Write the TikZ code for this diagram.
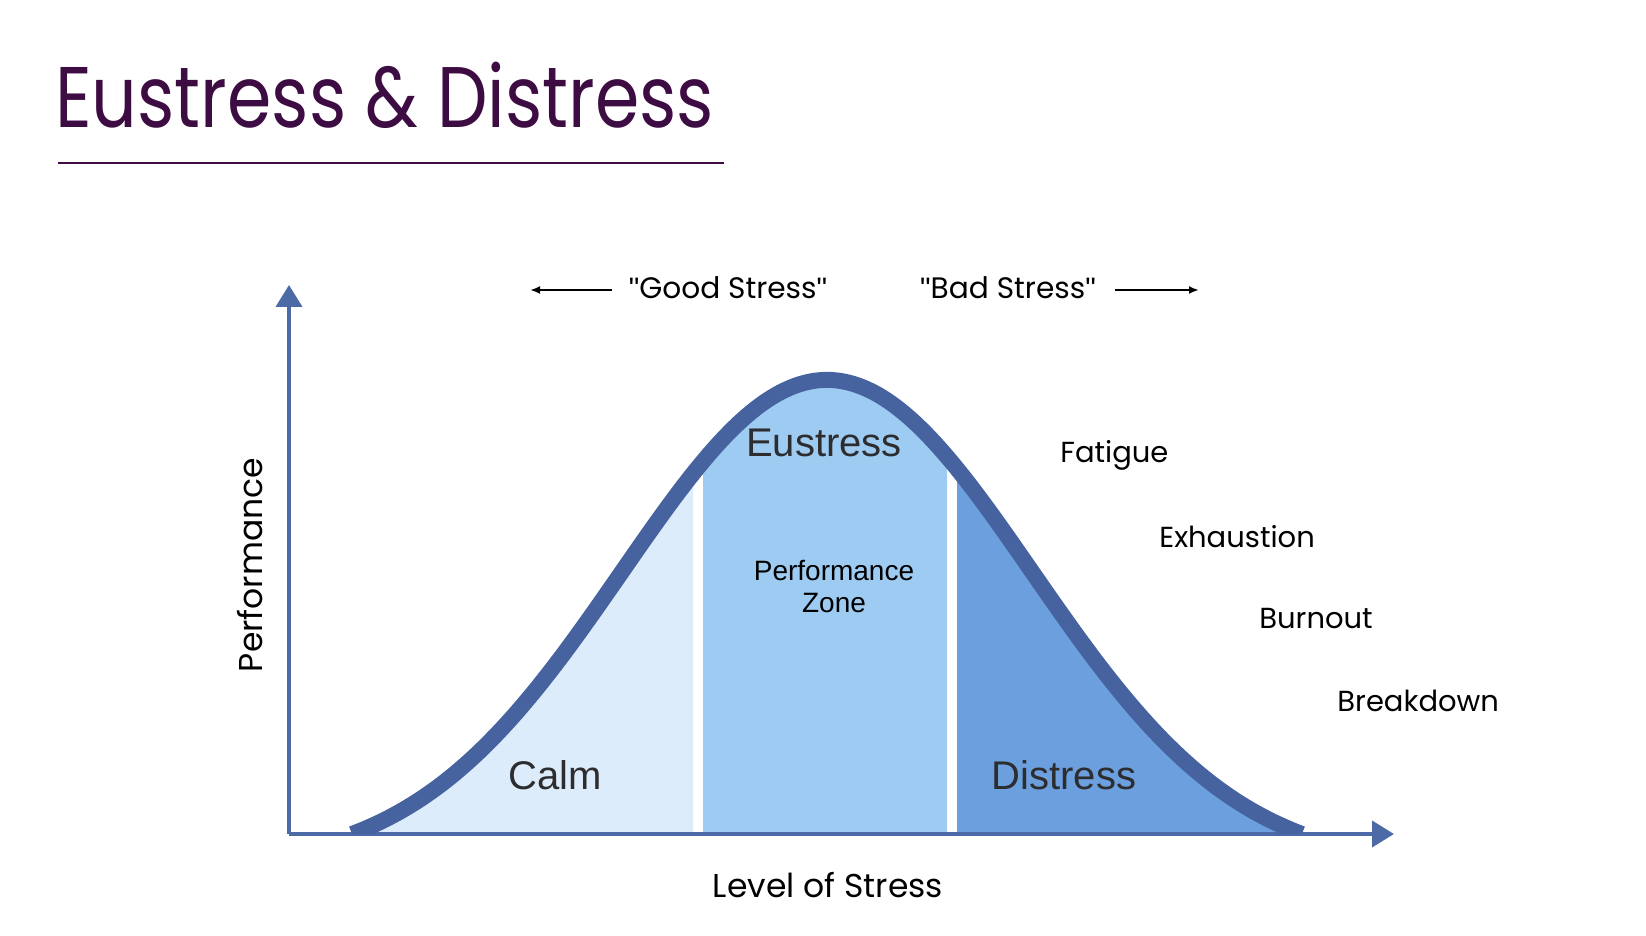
\documentclass[tikz,border=0pt]{standalone}
\usepackage{fontspec}
\setmainfont{Poppins}
\setsansfont{Liberation Sans}
\newfontfamily\quotefont{Liberation Sans}[Ligatures=TeXOff]
\usetikzlibrary{arrows.meta}
\definecolor{figTitle}{RGB}{61,12,66}
\definecolor{figAxis}{RGB}{76,106,166}
\definecolor{figCurve}{RGB}{70,99,159}
\definecolor{figCalm}{RGB}{221,236,250}
\definecolor{figEu}{RGB}{158,203,241}
\definecolor{figDis}{RGB}{107,159,221}
\definecolor{figInk}{RGB}{45,45,48}
\newcommand{\qq}{{\quotefont\symbol{34}}}

\begin{document}
\begin{tikzpicture}[
  x=0.5pt,y=-0.5pt,
  title/.style={font=\fontsize{43}{48}\selectfont,text=figTitle,inner sep=0pt,xscale=0.83},
  label/.style={font=\fontsize{14.5}{18}\selectfont,text=black,inner sep=0pt},
  axislabel/.style={label,font=\fontsize{16.5}{20}\selectfont},
  zone/.style={font=\sffamily\fontsize{20}{24}\selectfont,text=figInk,inner sep=0pt},
  zonenote/.style={font=\sffamily\fontsize{14}{16}\selectfont,text=black,align=center,inner sep=0pt},
  axis/.style={line width=2pt,draw=figAxis,-{Triangle[width=13pt,length=11pt]}},
  hint/.style={line width=1.2pt,->,>={Latex[length=5pt,width=4pt]}}
]
\useasboundingbox (0,0) rectangle (1646,936);

% title and rule
\node[title,anchor=base west] (head) at (55,128) {Eustress \& Distress};
\draw[figTitle,line width=0.7pt] (58,163) -- (724,163);

% shaded zones under the curve
\foreach \a/\b/\c in {352/693/figCalm,703/947/figEu,957/1302/figDis}{
  \begin{scope}
    \clip (\a,300) rectangle (\b,834);
    \fill[\c] plot[domain=-2.317:2.317,samples=120,smooth]
      ({827+205*\x},{834-454*(exp(-\x*\x/2)-0.0683)/0.9317}) -- cycle;
  \end{scope}
}

% axes
\coordinate (origin) at (289,834);
\coordinate (ytop) at (289,285);
\coordinate (xend) at (1394,834);
\draw[axis] (origin) -- (ytop);
\draw[axis] (origin) -- (xend);

% curve
\begin{scope}
  \clip (300,300) rectangle (1380,833);
  \draw[figCurve,line width=8pt] plot[domain=-2.317:2.317,samples=120,smooth]
    ({827+205*\x},{834-454*(exp(-\x*\x/2)-0.0683)/0.9317});
\end{scope}

% zone labels
\node[zone] (eu) at (824,443) {Eustress};
\node[zonenote] (pz) at (834,587) {Performance\\Zone};
\node[zone] (calm) at (555,775) {Calm};
\node[zone] (dis) at (1064,775) {Distress};

% stages of distress
\node[label,anchor=west] (fat) at (1060,455) {Fatigue};
\node[label,anchor=west] (exh) at (1159,537) {Exhaustion};
\node[label,anchor=west] (burn) at (1259,619) {Burnout};
\node[label,anchor=west] (brk) at (1337,701) {Breakdown};

% axis labels
\node[axislabel,rotate=90] (perf) at (250,565) {Performance};
\node[axislabel] (level) at (828,885) {Level of Stress};

% good / bad stress
\node[label,font=\fontsize{14.8}{18}\selectfont] (good) at (728,288) {\qq Good Stress\qq};
\node[label,font=\fontsize{14.8}{18}\selectfont] (bad) at (1008,288) {\qq Bad Stress\qq};
\coordinate (goodstart) at (612,290);
\coordinate (goodend) at (530,290);
\coordinate (badstart) at (1115,290);
\coordinate (badend) at (1199,290);
\draw[hint] (goodstart) -- (goodend);
\draw[hint] (badstart) -- (badend);

\end{tikzpicture}
\end{document}
